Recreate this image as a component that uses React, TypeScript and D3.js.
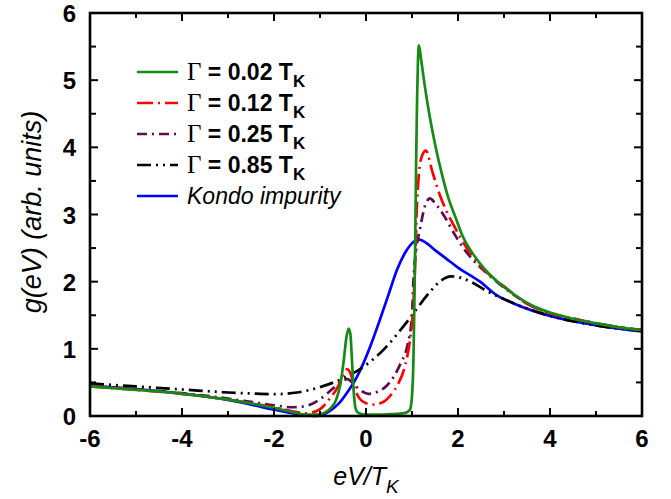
import React from "react";
import * as d3 from "d3";

// series: x in eV/T_K, y = g(eV)
const greenX = [-6, -5, -4, -3, -2.5, -2, -1.6, -1.3, -1.1, -0.9, -0.75, -0.65, -0.55, -0.48, -0.43, -0.38, -0.34, -0.31, -0.28, -0.25, -0.21, -0.15, 0, 0.3, 0.6, 0.8, 0.9, 0.96, 1.0, 1.03, 1.05, 1.07, 1.09, 1.11, 1.13, 1.15, 1.2, 1.25, 1.35, 1.5, 1.65, 1.78, 1.95, 2.1, 2.33, 2.6, 2.91, 3.2, 3.57, 4.0, 4.43, 5.0, 5.5, 6.0];
const greenY = [0.44, 0.39, 0.33, 0.245, 0.19, 0.12, 0.06, 0.02, 0.02, 0.05, 0.13, 0.24, 0.5, 0.85, 1.15, 1.3, 1.22, 0.9, 0.5, 0.22, 0.08, 0.04, 0.02, 0.02, 0.03, 0.04, 0.06, 0.1, 0.3, 0.8, 1.6, 2.6, 3.8, 4.7, 5.3, 5.52, 5.3, 5.05, 4.6, 4.05, 3.6, 3.27, 2.95, 2.68, 2.41, 2.17, 1.97, 1.82, 1.66, 1.54, 1.46, 1.38, 1.32, 1.28];

const redX = [-6, -5, -4, -3, -2.5, -2, -1.6, -1.3, -1.0, -0.8, -0.6, -0.5, -0.41, -0.33, -0.25, -0.15, 0, 0.15, 0.35, 0.55, 0.7, 0.85, 0.95, 1.02, 1.07, 1.1, 1.15, 1.22, 1.3, 1.45, 1.6, 1.75, 1.9, 2.05, 2.25, 2.48, 2.7, 3.0, 3.5, 4.0, 4.5, 5.0, 5.5, 6.0];
const redY = [0.44, 0.39, 0.33, 0.245, 0.19, 0.13, 0.07, 0.04, 0.1, 0.25, 0.45, 0.6, 0.7, 0.62, 0.42, 0.27, 0.19, 0.17, 0.2, 0.32, 0.48, 0.75, 1.1, 1.55, 2.3, 3.0, 3.6, 3.88, 3.95, 3.62, 3.3, 3.05, 2.85, 2.66, 2.44, 2.24, 2.09, 1.93, 1.67, 1.53, 1.45, 1.38, 1.32, 1.28];

const purpleX = [-6, -5, -4, -3, -2.5, -2, -1.6, -1.3, -1.0, -0.7, -0.5, -0.4, -0.3, -0.15, 0.05, 0.25, 0.45, 0.6, 0.75, 0.9, 1.0, 1.03, 1.1, 1.17, 1.27, 1.39, 1.5, 1.61, 1.75, 1.93, 2.15, 2.33, 2.62, 2.91, 3.2, 3.57, 4.0, 4.5, 5.0, 5.5, 6.0];
const purpleY = [0.45, 0.4, 0.34, 0.26, 0.21, 0.16, 0.13, 0.15, 0.25, 0.42, 0.53, 0.55, 0.5, 0.4, 0.33, 0.36, 0.45, 0.58, 0.78, 1.05, 1.5, 2.0, 2.52, 2.77, 3.1, 3.24, 3.17, 3.07, 2.92, 2.7, 2.47, 2.32, 2.13, 1.96, 1.81, 1.65, 1.53, 1.45, 1.38, 1.32, 1.28];

const blackX = [-6, -5, -4, -3, -2.5, -2, -1.5, -1, -0.5, 0, 0.4, 0.9, 1.37, 1.6, 1.85, 2.1, 2.3, 2.6, 3.0, 3.5, 4.0, 4.5, 5.0, 5.5, 6.0];
const blackY = [0.485, 0.44, 0.395, 0.35, 0.335, 0.325, 0.35, 0.43, 0.56, 0.76, 1.0, 1.41, 1.83, 2.0, 2.08, 2.05, 1.99, 1.87, 1.74, 1.6, 1.49, 1.41, 1.35, 1.3, 1.27];

const blueX = [-6, -5, -4, -3, -2.5, -2, -1.5, -1.07, -0.8, -0.6, -0.42, -0.2, -0.06, 0.1, 0.3, 0.5, 0.67, 0.85, 1.03, 1.14, 1.3, 1.5, 1.75, 2.0, 2.48, 2.84, 3.2, 3.57, 4.0, 4.5, 5.0, 5.5, 6.0];
const blueY = [0.45, 0.4, 0.335, 0.24, 0.17, 0.095, 0.03, 0.0, 0.07, 0.18, 0.34, 0.58, 0.78, 1.05, 1.43, 1.83, 2.17, 2.43, 2.59, 2.63, 2.58, 2.47, 2.34, 2.21, 2.0, 1.8, 1.68, 1.58, 1.49, 1.41, 1.35, 1.3, 1.26];

const gammaLabels = ["0.02", "0.12", "0.25", "0.85"];
const xTickLabels = [-6, -4, -2, 0, 2, 4, 6];
const yTickLabels = [0, 1, 2, 3, 4, 5, 6];

const series = [
  { xs: greenX, ys: greenY, color: "#168a16", dash: "none", label: gammaLabels[0] },
  { xs: redX, ys: redY, color: "#ff0000", dash: "16,5,2,5", label: gammaLabels[1] },
  { xs: purpleX, ys: purpleY, color: "#5e0c52", dash: "10,5,2,5", label: gammaLabels[2] },
  { xs: blackX, ys: blackY, color: "#000000", dash: "14,5,2,5,2,5", label: gammaLabels[3] },
  { xs: blueX, ys: blueY, color: "#0000ff", dash: "none", label: null },
];

const W = 671, H = 499;
const left = 90, right = 642, top = 13, bottom = 416;
const sans = "'Liberation Sans', Arial, Helvetica, sans-serif";

export default function App() {
  const x = d3.scaleLinear().domain([-6, 6]).range([left, right]);
  const y = d3.scaleLinear().domain([0, 6]).range([bottom, top]);
  const line = d3
    .line<[number, number]>()
    .x((d) => x(d[0]))
    .y((d) => y(d[1]))
    .curve(d3.curveMonotoneX);

  const xTicks = d3.range(-6, 7, 1);
  const yTicks = d3.range(0, 6.01, 0.5);

  // draw order: blue under the rest, green on top
  const order = [4, 3, 2, 1, 0];

  return (
    <svg width={W} height={H} style={{ position: "absolute", left: 0, top: 0, background: "#fff" }}>
      <defs>
        <clipPath id="plot">
          <rect x={left} y={top} width={right - left} height={bottom - top + 2} />
        </clipPath>
      </defs>

      <g clipPath="url(#plot)">
        {order.map((i) => {
          const s = series[i];
          const pts = s.xs.map((v, k) => [v, s.ys[k]] as [number, number]);
          return (
            <path key={i} d={line(pts) || ""} fill="none" stroke={s.color} strokeWidth={2.7}
              strokeDasharray={s.dash} strokeLinejoin="round" />
          );
        })}
      </g>

      {/* ticks on all sides, inward */}
      {xTicks.map((t) => {
        const len = t % 2 === 0 ? 8 : 5;
        return (
          <g key={"xt" + t} stroke="#000" strokeWidth={2}>
            <line x1={x(t)} x2={x(t)} y1={bottom} y2={bottom - len} />
            <line x1={x(t)} x2={x(t)} y1={top} y2={top + len} />
          </g>
        );
      })}
      {yTicks.map((t) => {
        const len = Number.isInteger(t) ? 8 : 6;
        return (
          <g key={"yt" + t} stroke="#000" strokeWidth={2}>
            <line x1={left} x2={left + len} y1={y(t)} y2={y(t)} />
            <line x1={right} x2={right - len} y1={y(t)} y2={y(t)} />
          </g>
        );
      })}
      <rect x={left} y={top} width={right - left} height={bottom - top} fill="none" stroke="#000" strokeWidth={2.6} />

      {xTickLabels.map((t) => (
        <text key={"xl" + t} x={x(t)} y={447} textAnchor="middle" fontFamily={sans} fontWeight="bold" fontSize={24}>
          {t}
        </text>
      ))}
      {yTickLabels.map((t) => (
        <text key={"yl" + t} x={76} y={y(t) + 9} textAnchor="end" fontFamily={sans} fontWeight="bold" fontSize={24}>
          {t}
        </text>
      ))}

      <text transform="translate(41,212) rotate(-90)" textAnchor="middle" fontFamily={sans} fontStyle="italic" fontSize={27}>
        g(eV) (arb. units)
      </text>
      <text x={366} y={485} textAnchor="middle" fontFamily={sans} fontStyle="italic" fontSize={25}>
        eV/T<tspan fontSize={19} dy={8}>K</tspan>
      </text>

      {/* legend */}
      {series.map((s, i) => {
        const ly = 72 + i * 31;
        return (
          <g key={"lg" + i}>
            <line x1={137} x2={178} y1={ly} y2={ly} stroke={s.color} strokeWidth={2.7} strokeDasharray={s.dash} />
            {s.label ? (
              <text x={187} y={ly + 8} fontFamily={sans} fontWeight="bold" fontSize={23}>
                <tspan fontFamily="'Liberation Serif', 'Times New Roman', serif" fontWeight="normal" fontSize={25}>Γ</tspan>
                <tspan> = {s.label} T</tspan>
                <tspan fontSize={17} dy={7}>K</tspan>
              </text>
            ) : (
              <text x={187} y={ly + 8} fontFamily={sans} fontStyle="italic" fontSize={23}>
                Kondo impurity
              </text>
            )}
          </g>
        );
      })}
    </svg>
  );
}
